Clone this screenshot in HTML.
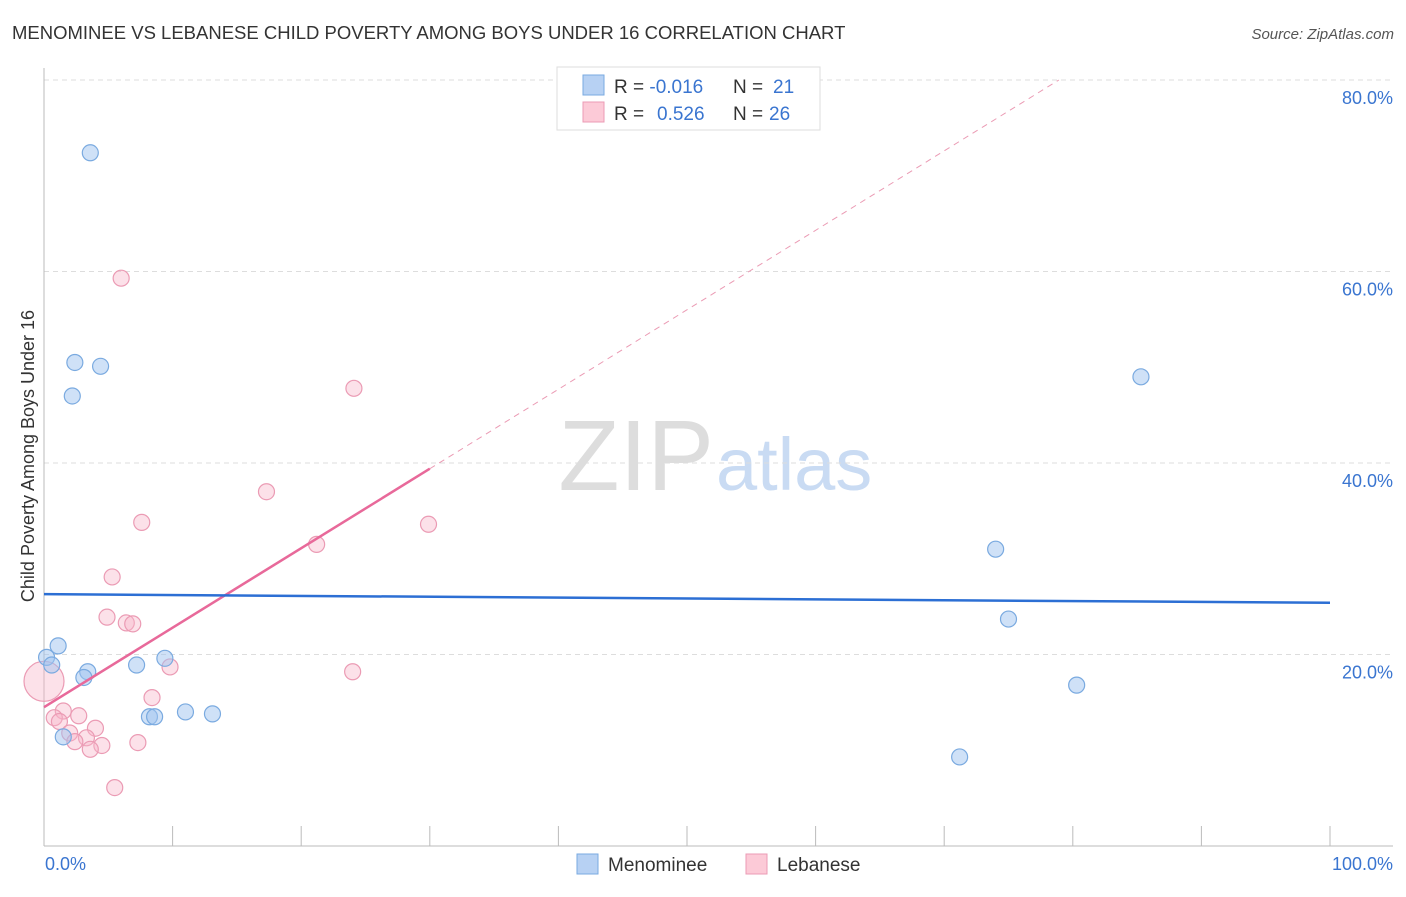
<!DOCTYPE html>
<html><head><meta charset="utf-8"><style>
body{margin:0;background:#fff;font-family:"Liberation Sans",sans-serif;}
svg text{font-family:"Liberation Sans",sans-serif;}
</style></head><body>
<svg id="chart" width="1406" height="892">
<text x="12" y="39" font-size="18.5" fill="#333">MENOMINEE VS LEBANESE CHILD POVERTY AMONG BOYS UNDER 16 CORRELATION CHART</text>
<text x="1394" y="39" font-size="15" fill="#555" font-style="italic" text-anchor="end">Source: ZipAtlas.com</text>
<text x="0" y="0" transform="translate(34,456) rotate(-90)" font-size="18" fill="#333" text-anchor="middle">Child Poverty Among Boys Under 16</text>
<text x="714" y="490" font-size="100" fill="#ddd" text-anchor="end" font-family="Liberation Serif">ZIP</text>
<text x="716" y="490" font-size="74" fill="#c9dbf3">atlas</text>
<g id="grid"></g><g id="marks"></g>
<g>
<rect x="557" y="67" width="263" height="63" fill="#fff" stroke="#ddd"/>
<rect x="583" y="75" width="21" height="20" fill="#b7d1f3" stroke="#7aaae0"/>
<rect x="583" y="102" width="21" height="20" fill="#fccad7" stroke="#eb9bb4"/>
<text x="614" y="93" font-size="19" fill="#333">R = <tspan fill="#3a75d0">-0.016</tspan><tspan x="733">N = </tspan><tspan x="773" fill="#3a75d0">21</tspan></text>
<text x="614" y="120" font-size="19" fill="#333">R = <tspan x="657" fill="#3a75d0">0.526</tspan><tspan x="733">N = </tspan><tspan x="769" fill="#3a75d0">26</tspan></text>
</g>
<g>
<rect x="577" y="854" width="21" height="20" fill="#b7d1f3" stroke="#7aaae0"/>
<text x="608" y="871" font-size="19" fill="#333">Menominee</text>
<rect x="746" y="854" width="21" height="20" fill="#fccad7" stroke="#eb9bb4"/>
<text x="777" y="871" font-size="19" fill="#333">Lebanese</text>
</g>
<text x="45" y="870" font-size="18" fill="#3a75d0">0.0%</text>
<text x="1393" y="870" font-size="18" fill="#3a75d0" text-anchor="end">100.0%</text>
</svg>
<script>
const yTicks=[20,40,60,80];
const blueX=[3.6,2.4,4.4,2.2,1.1,0.2,0.6,3.4,3.1,7.2,9.4,1.5,8.2,8.6,11.0,13.1,74.0,75.0,80.3,85.3,71.2];
const blueY=[72.4,50.5,50.1,47.0,20.9,19.7,18.9,18.2,17.6,18.9,19.6,11.4,13.5,13.5,14.0,13.8,31.0,23.7,16.8,49.0,9.3];
const pinkX=[6.0,24.1,17.3,7.6,29.9,21.2,5.3,4.9,6.4,6.9,9.8,24.0,8.4,0,1.5,0.8,1.2,2.7,4.0,2.0,3.3,2.4,4.5,3.6,7.3,5.5];
const pinkY=[59.3,47.8,37.0,33.8,33.6,31.5,28.1,23.9,23.3,23.2,18.7,18.2,15.5,17.2,14.1,13.4,13.0,13.6,12.3,11.8,11.3,10.9,10.5,10.1,10.8,6.1];
const pinkR=[8,8,8,8,8,8,8,8,8,8,8,8,8,20,8,8,8,8,8,8,8,8,8,8,8,8];
const blueTrend=[26.3,25.4];
const pinkTrend=[14.5,39.4];
const NS='http://www.w3.org/2000/svg';
const sx=v=>44+v*12.86, sy=v=>846-v*9.575;
function mk(t,a,p){const e=document.createElementNS(NS,t);for(const k in a)e.setAttribute(k,a[k]);p.appendChild(e);return e;}
const g=document.getElementById('grid'), m=document.getElementById('marks');
yTicks.forEach(t=>{
 const l=mk('line',{x1:44,x2:1393,y1:sy(t),y2:sy(t),stroke:'#ddd','stroke-dasharray':'5,4'},g);
 
 
 const tx=mk('text',{x:1393,y:sy(t)+24,'font-size':18,fill:'#3a75d0','text-anchor':'end'},g);
 tx.textContent=t.toFixed(1)+'%';
 
 
});
const ax=mk('line',{x1:44,x2:1393,y1:846,y2:846,stroke:'#bbb'},g);


const ay=mk('line',{x1:44,x2:44,y1:68,y2:846,stroke:'#bbb'},g);


for(let i=1;i<=10;i++){const tk=mk('line',{x1:sx(i*10),x2:sx(i*10),y1:826,y2:846,stroke:'#bbb'},g);
 
 }
pinkX.forEach((x,i)=>{const c=mk('circle',{cx:sx(x),cy:sy(pinkY[i]),r:pinkR[i],fill:'rgba(248,180,200,0.4)',stroke:'#eb9bb4','stroke-width':1.2},m);
 
 });
blueX.forEach((x,i)=>{const c=mk('circle',{cx:sx(x),cy:sy(blueY[i]),r:8,fill:'rgba(160,196,240,0.5)',stroke:'#7aaae0','stroke-width':1.2},m);
 
 });
const slope=(pinkTrend[1]-pinkTrend[0])/30;
const xe=(80-pinkTrend[0])/slope;
const pd=mk('line',{x1:sx(30),y1:sy(pinkTrend[1]),x2:sx(xe),y2:sy(80),stroke:'#eb9bb4','stroke-dasharray':'6,5'},m);


const pl=mk('line',{x1:sx(0),y1:sy(pinkTrend[0]),x2:sx(30),y2:sy(pinkTrend[1]),stroke:'#e8699a','stroke-width':2.5},m);


const bl=mk('line',{x1:sx(0),y1:sy(blueTrend[0]),x2:sx(100),y2:sy(blueTrend[1]),stroke:'#2c6fd4','stroke-width':2.5},m);


</script>
</body></html>
